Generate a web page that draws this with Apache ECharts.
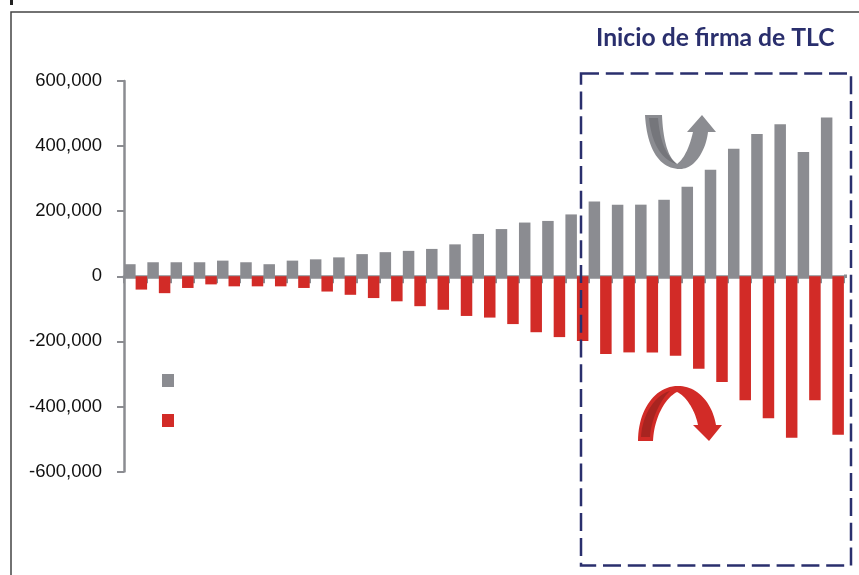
<!DOCTYPE html>
<html><head><meta charset="utf-8">
<style>html,body{margin:0;padding:0;background:#fff}#c{width:859px;height:575px}</style>
<script src="https://cdn.jsdelivr.net/npm/echarts@6/dist/echarts.min.js"></script>
</head><body><div id="c"></div>
<script>
const categories = Array.from({length:31},(_, i)=>String(i+1));
const grayValues = [37000,43000,43000,43000,48000,43000,37000,48000,52000,58000,68000,74000,78000,84000,98000,130000,145000,165000,170000,190000,230000,220000,220000,235000,275000,327000,392000,437000,467000,382000,488000];
const redValues = [-41000,-52000,-36000,-25000,-31000,-31000,-31000,-36000,-47000,-57000,-67000,-77000,-92000,-103000,-122000,-127000,-147000,-172000,-187000,-199000,-239000,-234000,-234000,-244000,-284000,-325000,-381000,-436000,-496000,-381000,-487000];
const yTicks = {min:-600000,max:600000,interval:200000};
const titleText = 'Inicio de firma de TLC';
const GRAY='#8b8c91', RED='#d22b27', NAVY='#2a2f6d';
// sample an outline of points and cubic curves [x1,y1,x2,y2,x,y] into a polygon
function outline(start, segs){
  const pts=[start]; let p=start;
  segs.forEach(s=>{
    if(s.length===2){pts.push(s);p=s;return;}
    for(let k=1;k<=24;k++){const t=k/24,u=1-t;
      pts.push([u*u*u*p[0]+3*u*u*t*s[0]+3*u*t*t*s[2]+t*t*t*s[4],u*u*u*p[1]+3*u*u*t*s[1]+3*u*t*t*s[3]+t*t*t*s[5]]);}
    p=[s[4],s[5]];
  });
  return pts;
}
const arrowUp=outline([645,115],[[647,150,660,169,680,169],[695,169,706,150,708,132],[716,132],[702,115],[687,132],[693,132],[690,145,685,158,677,164],[668,158,663,140,662,115]]);
const arrowUpIn=outline([649,118],[[658,118],[660,140,665,155,677,164],[660,160,651,140,649,118]]);
const arrowDown=outline([638,441],[[638,410,655,386,678,386],[697,386,712,402,716,425],[722,425],[709,441],[693,425],[698,425],[695,410,686,396,677,392],[665,398,654,418,653,441]]);
const arrowDownIn=outline([641,437],[[642,415,655,395,670,391],[660,400,651,420,650,437]]);
const chart = echarts.init(document.getElementById('c'),null,{renderer:'canvas'});
chart.setOption({
  animation:false,
  backgroundColor:'#fff',
  grid:{left:124,top:81,width:720,height:390.5,containLabel:false},
  legend:{left:162,top:374,orient:'vertical',itemWidth:12,itemHeight:13,itemGap:27,icon:'rect',
    formatter:()=>'',selectedMode:false,data:['Serie gris','Serie roja'],padding:0},
  xAxis:{type:'category',data:categories,
    axisLine:{onZero:true,lineStyle:{color:GRAY,width:3.5}},
    axisTick:{show:true,alignWithLabel:false,length:7,lineStyle:{color:GRAY,width:2}},
    axisLabel:{show:false},splitLine:{show:false}},
  yAxis:{type:'value',min:yTicks.min,max:yTicks.max,interval:yTicks.interval,
    axisLine:{show:true,lineStyle:{color:GRAY,width:2.5}},
    axisTick:{show:true,length:7,lineStyle:{color:GRAY,width:2}},
    splitLine:{show:false},
    axisLabel:{fontFamily:'Liberation Sans',fontSize:18.5,color:'#111',margin:22,padding:[9,0,0,0],
      formatter:v=>v.toLocaleString('en-US')}},
  series:[
    {name:'Serie gris',type:'bar',data:grayValues,barWidth:11.5,barGap:'0%',itemStyle:{color:GRAY},z:1},
    {name:'Serie roja',type:'bar',data:redValues,barWidth:11.5,barGap:'0%',itemStyle:{color:RED},z:1}
  ],
  graphic:[
    {type:'rect',shape:{x:11,y:12,width:860,height:580},style:{fill:'none',stroke:'#444',lineWidth:1.5},silent:true},
    {type:'rect',shape:{x:10,y:0,width:3,height:5},style:{fill:'#222'},silent:true},
    {type:'rect',shape:{x:844,y:274.5,width:3,height:3.5},style:{fill:GRAY},silent:true},
    {type:'text',x:596,y:25.5,style:{text:titleText,fontFamily:'Lato',fontWeight:'bold',fontSize:24.7,fill:NAVY},silent:true},
    {type:'rect',z:10,shape:{x:581,y:73.5,width:270,height:492},style:{fill:'none',stroke:NAVY,lineWidth:2.5,lineDash:[18,6.8]},silent:true},
    {type:'polygon',z:10,shape:{points:arrowUp},style:{fill:GRAY},silent:true},
    {type:'polygon',z:11,shape:{points:arrowUpIn},style:{fill:'#75767b'},silent:true},
    {type:'polygon',z:10,shape:{points:arrowDown},style:{fill:RED},silent:true},
    {type:'polygon',z:11,shape:{points:arrowDownIn},style:{fill:'#a82420'},silent:true}
  ]
});
</script></body></html>
